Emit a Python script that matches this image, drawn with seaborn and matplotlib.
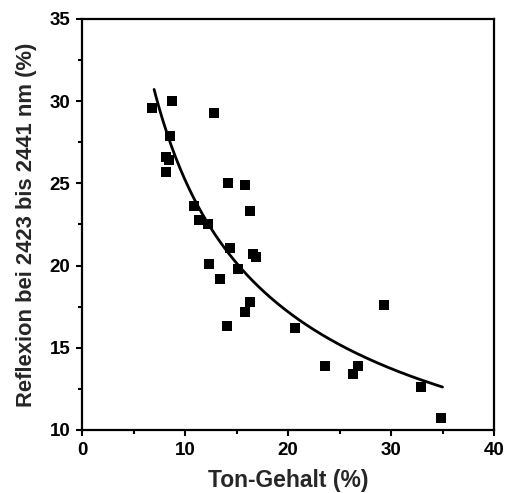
import numpy as np
import pandas as pd
import matplotlib
matplotlib.use("Agg")
import matplotlib.pyplot as plt
import seaborn as sns
from matplotlib.ticker import MultipleLocator

# Data
ton_gehalt = [6.8, 8.7, 12.8, 8.5, 8.2, 8.4, 8.2, 14.2, 15.8, 16.3, 10.9, 11.4, 12.2,
              14.4, 16.6, 16.9, 12.3, 15.1, 13.4, 16.3, 15.8, 14.1, 20.7, 23.6, 26.8,
              26.3, 29.3, 32.9, 34.9]
reflexion = [29.6, 30.0, 29.3, 27.9, 26.6, 26.4, 25.7, 25.0, 24.9, 23.3, 23.6, 22.8, 22.5,
             21.1, 20.7, 20.5, 20.1, 19.8, 19.2, 17.8, 17.2, 16.3, 16.2, 13.9, 13.9,
             13.4, 17.6, 12.6, 10.7]

# Power-law fit curve parameters (y = a * x^b), range of the drawn curve
fit_a = 90.1
fit_b = -0.553
fit_range = (7.0, 35.0)

sns.set_theme(style="ticks")
plt.rcParams['font.family'] = ['Liberation Sans', 'DejaVu Sans']
plt.rcParams['font.weight'] = 'bold'

fig = plt.figure(figsize=(5.07, 4.93), dpi=100)
ax = fig.add_axes([82/507, 1-430/493, (494-82)/507, (430-19)/493])

df = pd.DataFrame({"x": ton_gehalt, "y": reflexion})
sns.scatterplot(data=df, x="x", y="y", marker="s", s=58, color="black",
                linewidth=0, ax=ax, zorder=3)

xc = np.linspace(fit_range[0], fit_range[1], 200)
curve = pd.DataFrame({"x": xc, "y": fit_a * xc ** fit_b})
sns.lineplot(data=curve, x="x", y="y", color="black", linewidth=2.0, ax=ax)

ax.set_xlim(0, 40)
ax.set_ylim(10, 35)
ax.xaxis.set_major_locator(MultipleLocator(10))
ax.xaxis.set_minor_locator(MultipleLocator(5))
ax.yaxis.set_major_locator(MultipleLocator(5))
ax.yaxis.set_minor_locator(MultipleLocator(2.5))
ax.tick_params(which="major", direction="out", length=4.5, width=1.5, labelsize=13.5,
               pad=4, color="black", labelcolor="black")
ax.tick_params(which="minor", direction="out", length=3, width=1.5, color="black")
for lab in ax.get_xticklabels() + ax.get_yticklabels():
    lab.set_fontweight("bold")

for sp in ax.spines.values():
    sp.set_visible(True)
    sp.set_linewidth(1.6)
    sp.set_color("black")

ax.set_xlabel("Ton-Gehalt (%)", fontsize=16.5, fontweight="bold", labelpad=7)
ax.set_ylabel("Reflexion bei 2423 bis 2441 nm (%)", fontsize=15.8, fontweight="bold", labelpad=9)

fig.savefig("out.png", dpi=100)
